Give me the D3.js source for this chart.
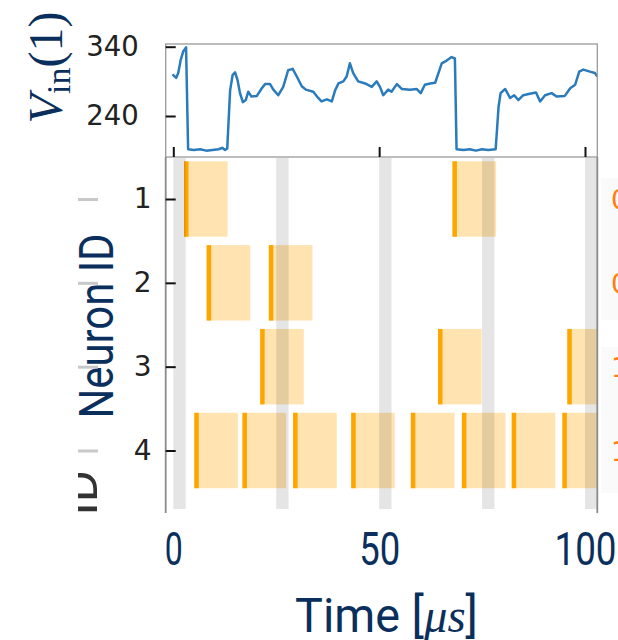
<!DOCTYPE html>
<html>
<head>
<meta charset="utf-8">
<script src="https://cdn.jsdelivr.net/npm/d3@7"></script>
<style>
  body { margin: 0; background: #fff; }
  svg { display: block; }
</style>
</head>
<body>
<div id="chart"></div>
<script>
// ---- data ----
const timeTicks = [0, 50, 100];
const vinTicks = [240, 340];
const neuronIds = [1, 2, 3, 4];

// stimulus windows (grey bands), start time in us
const stimOnsets = [0, 25, 50, 75, 100];
const stimLength = 3;

// spike times per neuron (us)
const spikesN1 = [2.6, 67.8];
const spikesN2 = [8.1, 23.2];
const spikesN3 = [21.1, 64.3, 95.7];
const spikesN4 = [5.1, 16.8, 29.1, 43.2, 57.7, 70.1, 82.2, 94.5];
const refractory = 10.6;

// input voltage trace of neuron 1
const vinTime = [-0.2, 0.7, 1.2, 1.8, 2.4, 3.1, 3.6, 5, 6.5, 8, 9.5, 11, 11.9, 12.6, 13.1,
  13.8, 14.4, 15.0, 15.6, 16.2, 16.9, 17.6, 18.2, 19.0, 20.3, 21.5, 22.3, 23.5, 24.3, 25.5,
  26.7, 27.9, 29.0, 30.0, 31.2, 32.2, 34.0, 35.2, 36.0, 37.3, 38.5, 39.3, 40.1, 41.3, 42.1,
  42.9, 43.7, 44.9, 46.6, 48.2, 49.4, 50.2, 51.0, 52.2, 53.0, 54.3, 55.5, 57.5, 59.1, 60.1,
  61.1, 62.4, 63.6, 64.4, 65.2, 66.4, 67.6, 68.4, 68.8, 70.5, 72, 73.5, 75, 76.5, 78.3,
  79.0, 79.5, 80.6, 81.8, 82.8, 83.8, 85.0, 86.6, 88.1, 89.1, 90.3, 91.9, 93.1, 95.1, 96.4,
  97.6, 98.6, 99.6, 101.2, 102.4, 103.0];
const vinValue = [300, 295, 302, 321, 333, 339, 192, 191, 192, 190, 191, 192, 194, 191, 193,
  277, 299, 303, 292, 273, 260, 263, 275, 268, 269, 280, 286, 286, 278, 270,
  282, 306, 308, 297, 283, 278, 275, 266, 261, 264, 261, 277, 287, 290, 297,
  316, 302, 290, 287, 282, 290, 282, 270, 278, 275, 286, 279, 278, 279, 273,
  285, 287, 288, 302, 316, 320, 325, 323, 192, 191, 192, 190, 192, 191, 192,
  253, 273, 279, 266, 270, 263, 270, 272, 274, 261, 270, 273, 268, 269, 280,
  285, 304, 307, 304, 302, 297];

const W = 618, H = 640;
const navy = "#0a2f5c";

const svg = d3.select("#chart").append("svg")
  .attr("width", W).attr("height", H)
  .style("background", "#fff");

const defs = svg.append("defs");

// shared time axis
const x = d3.scaleLinear().domain([0, 100]).range([173.3, 585]);
const left = 165.7, right = 597.3;

// ---- top panel ----
const topY0 = 44, topY1 = 157;
const yV = d3.scaleLinear().domain([240, 340]).range([116, 46.7]);

defs.append("clipPath").attr("id", "clipTop")
  .append("rect").attr("x", left).attr("y", topY0).attr("width", right - left).attr("height", topY1 - topY0);

const line = d3.line()
  .x((d, i) => x(vinTime[i]))
  .y(d => yV(d));

svg.append("path")
  .datum(vinValue)
  .attr("clip-path", "url(#clipTop)")
  .attr("d", line)
  .attr("fill", "none")
  .attr("stroke", "#2a7bbb")
  .attr("stroke-width", 2.5)
  .attr("stroke-linejoin", "round");

svg.append("rect")
  .attr("x", left).attr("y", topY0).attr("width", right - left).attr("height", topY1 - topY0)
  .attr("fill", "none").attr("stroke", "#9a9a9a").attr("stroke-width", 1.3);

const axV = svg.append("g")
  .attr("transform", `translate(${left},0)`)
  .call(d3.axisLeft(yV).tickValues(vinTicks).tickSize(-10).tickPadding(27));
axV.select(".domain").remove();
axV.selectAll("line").attr("stroke", "#111").attr("stroke-width", 2);
axV.selectAll("text").attr("font-family", "DejaVu Sans").attr("font-size", 27.5).attr("fill", "#222");

const axTop = svg.append("g")
  .attr("transform", `translate(0,${topY1})`)
  .call(d3.axisTop(x).tickValues(timeTicks).tickSize(10).tickFormat(""));
axTop.select(".domain").remove();
axTop.selectAll("line").attr("stroke", "#111").attr("stroke-width", 2);

svg.append("text")
  .attr("transform", "translate(62,67.5) rotate(-90)")
  .attr("text-anchor", "middle")
  .attr("font-family", "Liberation Serif")
  .attr("font-size", 48)
  .attr("fill", navy)
  .call(t => {
    t.append("tspan").attr("font-style", "italic").text("V");
    t.append("tspan").attr("font-size", 34).attr("dy", 8).text("in");
    t.append("tspan").attr("dy", -8).text("(1)");
  });

// ---- bottom panel ----
const botY0 = 157, botY1 = 513;
const yN = d3.scaleLinear().domain([1, 4]).range([199, 450.5]);
const rowH = yN(1.45) - yN(0.55);

defs.append("clipPath").attr("id", "clipBot")
  .append("rect").attr("x", left).attr("y", botY0).attr("width", right - left).attr("height", botY1 - botY0);

const spikeRows = [spikesN1, spikesN2, spikesN3, spikesN4];
const spikes = [];
spikeRows.forEach((row, i) => row.forEach(t => spikes.push({ id: neuronIds[i], t: t })));

const plot = svg.append("g").attr("clip-path", "url(#clipBot)");

plot.selectAll("rect.win")
  .data(spikes)
  .join("rect")
  .attr("class", "win")
  .attr("x", d => x(d.t))
  .attr("y", d => yN(d.id - 0.45))
  .attr("width", d => x(d.t + refractory) - x(d.t))
  .attr("height", rowH)
  .attr("fill", "#ffa500")
  .attr("fill-opacity", 0.3);

plot.selectAll("rect.spike")
  .data(spikes)
  .join("rect")
  .attr("class", "spike")
  .attr("x", d => x(d.t))
  .attr("y", d => yN(d.id - 0.45))
  .attr("width", 4.5)
  .attr("height", rowH)
  .attr("fill", "#ffa500");

plot.selectAll("rect.stim")
  .data(stimOnsets)
  .join("rect")
  .attr("class", "stim")
  .attr("x", d => x(d))
  .attr("y", botY0 + 1)
  .attr("width", d => x(d + stimLength) - x(d))
  .attr("height", 509 - botY0 - 1)
  .attr("fill", "#000")
  .attr("fill-opacity", 0.1);

// spines
svg.append("line").attr("x1", left).attr("x2", left).attr("y1", botY0).attr("y2", botY1)
  .attr("stroke", "#8a8a8a").attr("stroke-width", 1.8);
svg.append("line").attr("x1", right).attr("x2", right).attr("y1", botY0).attr("y2", botY1)
  .attr("stroke", "#8a8a8a").attr("stroke-width", 1.8);

const axN = svg.append("g")
  .attr("transform", `translate(${left},0)`)
  .call(d3.axisLeft(yN).tickValues(neuronIds).tickSize(-10).tickPadding(14).tickFormat(d3.format("d")));
axN.select(".domain").remove();
axN.selectAll("line").attr("stroke", "#111").attr("stroke-width", 2);
axN.selectAll("text").attr("font-family", "DejaVu Sans").attr("font-size", 28).attr("fill", "#222");

const labelW = { 0: 18, 50: 41, 100: 62 };
const axT = svg.append("g")
  .attr("transform", `translate(0,${botY1})`)
  .call(d3.axisBottom(x).tickValues(timeTicks).tickSize(0).tickPadding(19));
axT.select(".domain").remove();
axT.selectAll("text")
  .attr("font-family", "Roboto").attr("font-size", 46).attr("fill", navy)
  .attr("textLength", d => labelW[d]).attr("lengthAdjust", "spacingAndGlyphs");

// axis titles
svg.append("text")
  .attr("transform", "translate(113,326) rotate(-90)")
  .attr("text-anchor", "middle")
  .attr("font-family", "Roboto").attr("font-size", 49).attr("fill", navy)
  .attr("textLength", 185).attr("lengthAdjust", "spacingAndGlyphs")
  .text("Neuron ID");

svg.append("text")
  .attr("x", 386.5).attr("y", 632)
  .attr("text-anchor", "middle")
  .attr("font-family", "Roboto").attr("font-size", 49).attr("fill", navy)
  .attr("textLength", 183).attr("lengthAdjust", "spacingAndGlyphs")
  .call(t => {
    t.append("tspan").text("Time [");
    t.append("tspan").attr("font-family", "Liberation Serif").attr("font-style", "italic").text("μs");
    t.append("tspan").text("]");
  });

// ---- edges of neighbouring panels cut by the crop ----
svg.selectAll("line.ghost")
  .data(neuronIds)
  .join("line")
  .attr("class", "ghost")
  .attr("x1", 78).attr("x2", 98)
  .attr("y1", d => yN(d) + 0.5).attr("y2", d => yN(d) + 0.5)
  .attr("stroke", "#c8c8c8").attr("stroke-width", 3);

defs.append("clipPath").attr("id", "clipGhost")
  .append("rect").attr("x", 78).attr("y", 460).attr("width", 40).attr("height", 60);
svg.append("g")
  .attr("clip-path", "url(#clipGhost)")
  .append("text")
  .attr("transform", "translate(97,470) rotate(-90)")
  .attr("text-anchor", "end")
  .attr("font-family", "Roboto").attr("font-size", 49).attr("fill", "#333")
  .text("ID");

svg.append("rect").attr("x", 601).attr("y", 178).attr("width", 17).attr("height", 142).attr("fill", "#fafafa");
svg.append("rect").attr("x", 601).attr("y", 347).attr("width", 17).attr("height", 146).attr("fill", "#fafafa");

const sideLabels = ["0", "0", "1", "1"];
svg.selectAll("text.side")
  .data(sideLabels)
  .join("text")
  .attr("class", "side")
  .attr("x", 611)
  .attr("y", (d, i) => yN(neuronIds[i]) + 10)
  .attr("font-family", "DejaVu Sans").attr("font-size", 27)
  .attr("fill", "#ff7f0e")
  .text(d => d);
</script>
</body>
</html>
